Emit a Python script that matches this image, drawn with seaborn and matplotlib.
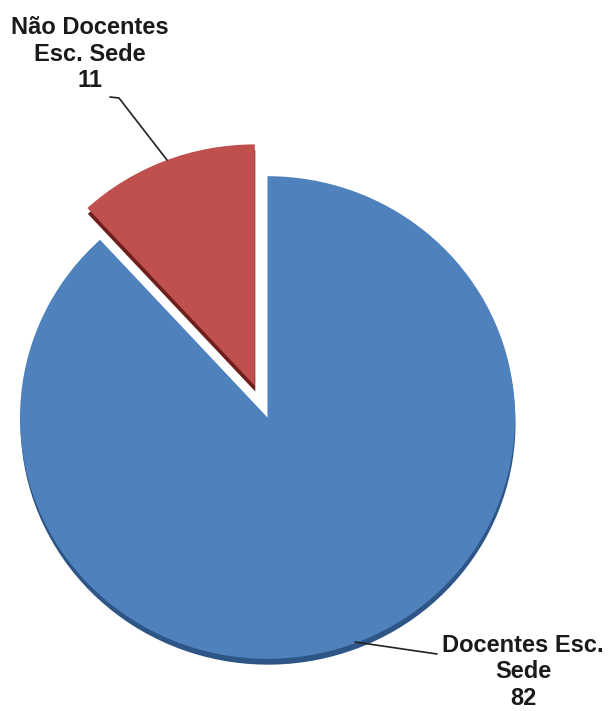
import matplotlib
matplotlib.use("Agg")
import matplotlib.pyplot as plt
import seaborn as sns

# dados
categorias = ["Docentes Esc.\nSede", "Não Docentes\nEsc. Sede"]
valores = [82, 11]
cores = ["#4F81BD", "#C0504D"]
sombras = ["#2D5586", "#6E1F1D"]

sns.set_style("white")
plt.rcParams['font.family'] = ['Liberation Sans', 'DejaVu Sans']

W, H = 609, 711
sy = 0.975  # leve achatamento vertical (efeito 3D)

def py(y_img):
    return (H - y_img) / sy

fig = plt.figure(figsize=(W / 100, H / 100), dpi=100)
ax = fig.add_axes([0, 0, 1, 1])

centro = (267.5, py(417.5))
raio = 247.5
explode = [0, 35]

# sombra (efeito 3D)
ax.pie(valores, colors=sombras, startangle=90, counterclock=False,
       explode=explode, center=(centro[0] + 0.5, centro[1] - 6), radius=raio,
       wedgeprops=dict(linewidth=0), frame=True)
ax.pie(valores, colors=cores, startangle=90, counterclock=False,
       explode=explode, center=centro, radius=raio,
       wedgeprops=dict(linewidth=0), frame=True)
ax.set_aspect('auto')
ax.set_xlim(0, W)
ax.set_ylim(0, H / sy)
ax.axis('off')

# rótulos
ax.text(90, py(54), categorias[1] + "\n" + str(valores[1]), ha='center', va='center',
        fontsize=17, fontweight='bold', linespacing=1.2, color='#1a1a1a')
ax.text(523, py(672), categorias[0] + "\n" + str(valores[0]), ha='center', va='center',
        fontsize=17, fontweight='bold', linespacing=1.2, color='#1a1a1a')

ax.plot([110, 119, 167], [py(97), py(98), py(160)], color='#222222', lw=1.2)
ax.plot([355, 437], [py(642), py(654)], color='#222222', lw=1.2)

fig.savefig("out.png", dpi=100)
